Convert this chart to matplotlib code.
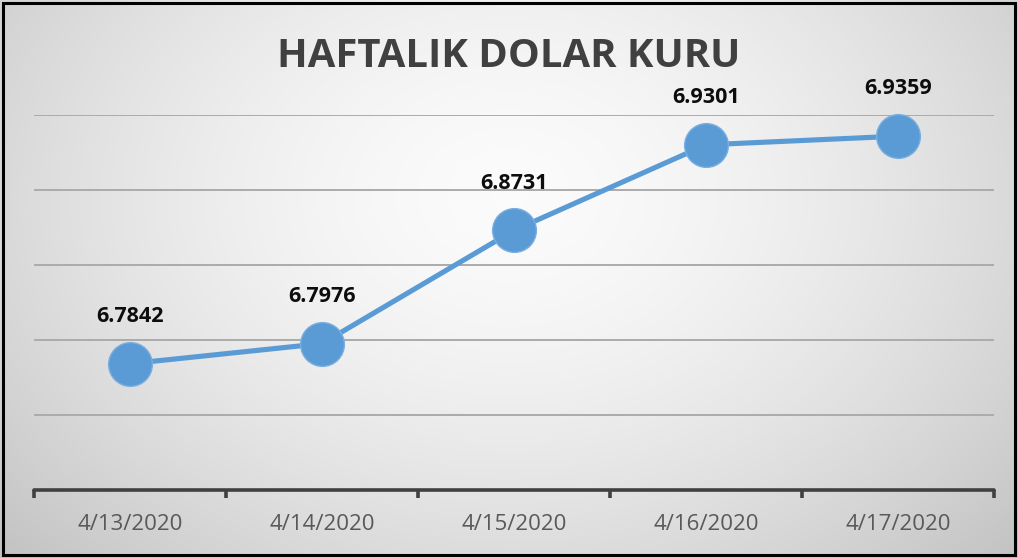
import numpy as np
import matplotlib
matplotlib.use("Agg")
import matplotlib.pyplot as plt
from matplotlib.patches import Rectangle

dates = ["4/13/2020", "4/14/2020", "4/15/2020", "4/16/2020", "4/17/2020"]
rates = [6.7842, 6.7976, 6.8731, 6.9301, 6.9359]
labels = ["6.7842", "6.7976", "6.8731", "6.9301", "6.9359"]
title = "HAFTALIK DOLAR KURU"

W, H = 1018, 558
fig = plt.figure(figsize=(W / 100, H / 100), dpi=100)

# radial gradient background
bg = fig.add_axes([0, 0, 1, 1], zorder=-10)
yy, xx = np.mgrid[0:H, 0:W]
r = np.sqrt(((xx - W * 0.5) / (W * 0.62)) ** 2 + ((yy - H * 0.35) / (H * 0.85)) ** 2)
val = 0.985 - 0.19 * np.clip(r, 0, 1.2) ** 1.6
bg.imshow(np.dstack([val, val, val]), extent=[0, 1, 0, 1], aspect="auto", origin="upper")
bg.set_axis_off()

# outer border
fig.patches.append(Rectangle((0.003, 0.005), 0.994, 0.99, transform=fig.transFigure,
                             fill=False, edgecolor="black", linewidth=2.2, zorder=100))

ax = fig.add_axes([34 / W, 1 - 490 / H, 960 / W, 375 / H])
ax.set_facecolor("none")
x = np.arange(len(dates))
ax.set_xlim(-0.5, len(dates) - 0.5)
ax.set_ylim(6.70, 6.95)
ax.set_yticks([6.75, 6.80, 6.85, 6.90, 6.95])
ax.yaxis.grid(True, color="#ababab", linewidth=1.4)
ax.set_axisbelow(True)
ax.tick_params(axis="y", left=False, labelleft=False)
for s in ["left", "right", "top"]:
    ax.spines[s].set_visible(False)
ax.spines["bottom"].set_color("#404040")
ax.spines["bottom"].set_linewidth(2.6)
ax.spines["bottom"].set_capstyle("round")

ax.set_xticks(np.arange(len(dates) + 1) - 0.5, minor=False)
ax.set_xticklabels([])
ax.tick_params(axis="x", which="major", direction="out", length=6, width=2.6, color="#404040")
ax.set_xticks(x, minor=True)
ax.set_xticklabels(dates, minor=True)
ax.tick_params(axis="x", which="minor", length=0, pad=17, labelsize=16, labelcolor="#595959")
for t in ax.get_xticklabels(minor=True):
    t.set_fontfamily("Open Sans")

ax.plot(x, rates, color="#5b9bd5", linewidth=3.7, marker="o", markersize=31.5,
        markerfacecolor="#5b9bd5", markeredgecolor="#7aaee0", markeredgewidth=1.0,
        clip_on=False, zorder=5)
for xi, yi, lab in zip(x, rates, labels):
    ax.annotate(lab, (xi, yi), xytext=(0, 34), textcoords="offset points",
                ha="center", va="center", fontsize=15.5, fontweight="bold",
                fontfamily="Open Sans", color="#0d0d0d", zorder=6)

fig.text(0.5, 1 - 56 / H, title, ha="center", va="center", fontsize=28.8,
         fontweight="bold", fontfamily="Open Sans", color="#404040")

fig.savefig("out.png", dpi=100)
